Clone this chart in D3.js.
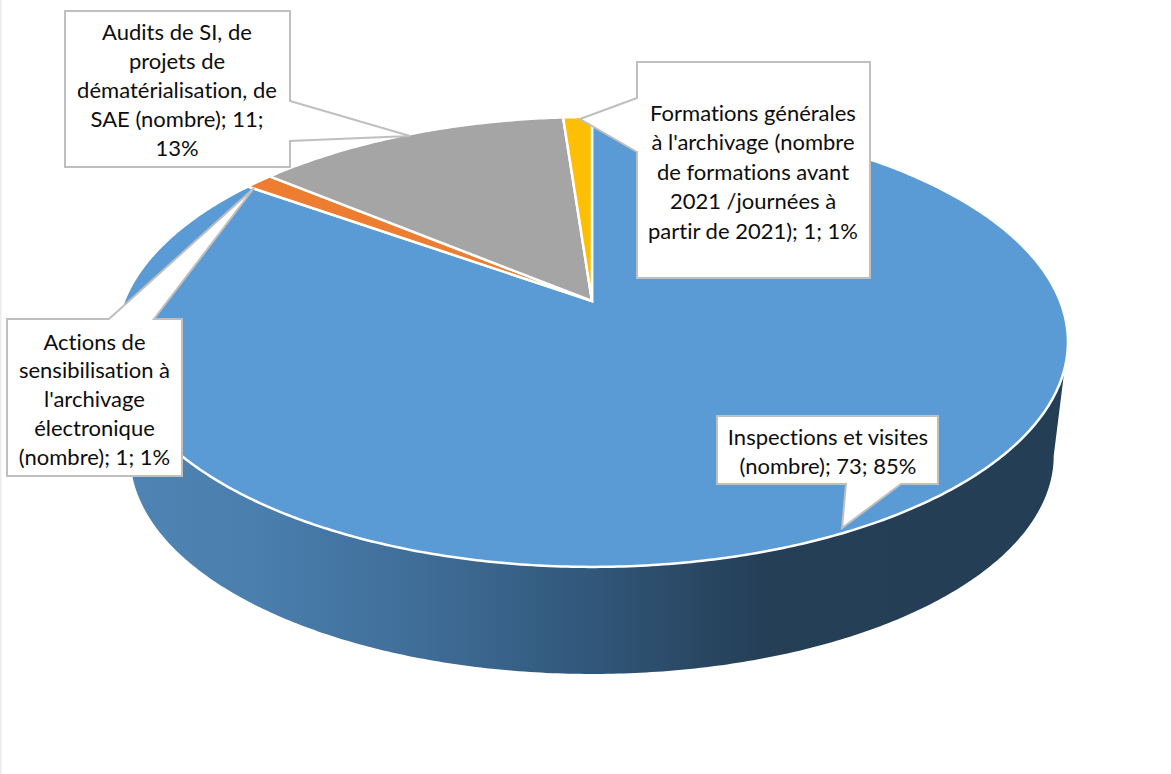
<!DOCTYPE html>
<html><head><meta charset="utf-8">
<style>html,body{margin:0;padding:0;background:#fff}svg{display:block}text{font-variant-ligatures:none}</style>
<script src="https://cdn.jsdelivr.net/npm/d3@7/dist/d3.min.js"></script>
</head><body><svg id="c" width="1171" height="774"></svg>
<script>
const categories = ["Inspections et visites (nombre)","Actions de sensibilisation à l'archivage électronique (nombre)","Audits de SI, de projets de dématérialisation, de SAE (nombre)","Formations générales à l'archivage (nombre de formations avant 2021 /journées à partir de 2021)"];
const values = [73,1,11,1];
const percents = ["85%","1%","13%","1%"];
const colors = ["#5b9bd5","#ed7d31","#a5a5a5","#fdbf04"];
const labelLines = [
 ["Inspections et visites","(nombre); 73; 85%"],
 ["Actions de","sensibilisation à","l'archivage","électronique","(nombre); 1; 1%"],
 ["Audits de SI, de","projets de","dématérialisation, de","SAE (nombre); 11;","13%"],
 ["Formations générales","à l'archivage (nombre","de formations avant","2021 /journées à","partir de 2021); 1; 1%"]
];
// callout layout: box rect, pointer polygon segment, text centre, first line centre, line gap
const callouts = [
 {x0:717,x1:938,y0:416,y1:484,ptr:[[901,484],[842,528],[846,484]],cx:828,y:437,gap:29},
 {x0:7,x1:182,y0:319,y1:476,ptr:[[109,319],[254,188],[154,319]],cx:94.5,y:342,gap:28.7},
 {x0:65,x1:290,y0:11,y1:167,ptr:[[290,101],[410,136],[290,141]],cx:177,y:32,gap:29},
 {x0:637,x1:870,y0:62,y1:278,ptr:[[637,98],[580,119],[637,152]],cx:753,y:113,gap:29.5}
];
const k=0.182;
const project=(a,ox,oy,A,B)=>{const u=Math.sin(a),v=-Math.cos(a),d=1-k*v;return [ox+A*u/d,oy+B*v/d];};
const topFace=a=>project(a,592,301,468,217.5);
const botFace=a=>project(a,592,416,454,211);
const svg=d3.select("#c");
const line=d3.line();
const defs=svg.append("defs");
const g=defs.append("linearGradient").attr("id","wall").attr("gradientUnits","userSpaceOnUse").attr("x1",120).attr("x2",1060).attr("y1",0).attr("y2",0);
[[0,"#4f84b5"],[0.15,"#4a7eac"],[0.32,"#3f6d98"],[0.5,"#31577a"],[0.68,"#253f57"],[1,"#243e55"]].forEach(s=>g.append("stop").attr("offset",s[0]).attr("stop-color",s[1]));
svg.append("rect").attr("width",1171).attr("height",774).attr("fill","#fff");
svg.append("rect").attr("width",1.5).attr("height",774).attr("fill","#ececec");
const aR=Math.acos(-k), aL=2*Math.PI-aR;
const sweep=d3.range(aR,aL,0.01).concat([aL]);
const wallPts=[topFace(aR),...sweep.map(botFace),topFace(aL)];
svg.append("path").attr("d",line(wallPts)+"Z").attr("fill","url(#wall)");
const arcs=d3.pie().sort(null)(values);
svg.selectAll("path.slice").data(arcs).join("path").attr("class","slice")
 .attr("fill",(d,i)=>colors[i]).attr("stroke","#fff").attr("stroke-width",2.5).attr("stroke-linejoin","miter")
 .attr("d",d=>{const n=Math.max(4,Math.ceil((d.endAngle-d.startAngle)/0.01));
   const pts=d3.range(n+1).map(i=>topFace(d.startAngle+(d.endAngle-d.startAngle)*i/n));
   return line([[592,301],...pts])+"Z";});
const lab=svg.selectAll("g.lab").data(callouts).join("g").attr("class","lab");
lab.append("path").attr("fill","#fff").attr("stroke","#bfbfbf").attr("stroke-width",2).attr("stroke-linejoin","miter")
 .attr("d",c=>{
   const p=c.ptr,{x0,x1,y0,y1}=c;
   let pts;
   if(p[0][1]===y1&&p[2][1]===y1) pts=[[x0,y0],[x1,y0],[x1,y1],...p,[x0,y1]];
   else if(p[0][1]===y0&&p[2][1]===y0) pts=[[x0,y0],...p,[x1,y0],[x1,y1],[x0,y1]];
   else if(p[0][0]===x1) pts=[[x0,y0],[x1,y0],...p,[x1,y1],[x0,y1]];
   else pts=[[x0,y0],[x1,y0],[x1,y1],[x0,y1],...p.slice().reverse()];
   return line(pts)+"Z";});
lab.each(function(c,i){
 d3.select(this).selectAll("text").data(labelLines[i]).join("text")
  .attr("x",c.cx).attr("y",(d,j)=>c.y+j*c.gap).attr("dy","0.35em")
  .attr("text-anchor","middle").attr("fill","#0d0d0d")
  .attr("font-family","Lato, Carlito, sans-serif").attr("font-size",22).text(d=>d);
});
</script></body></html>
